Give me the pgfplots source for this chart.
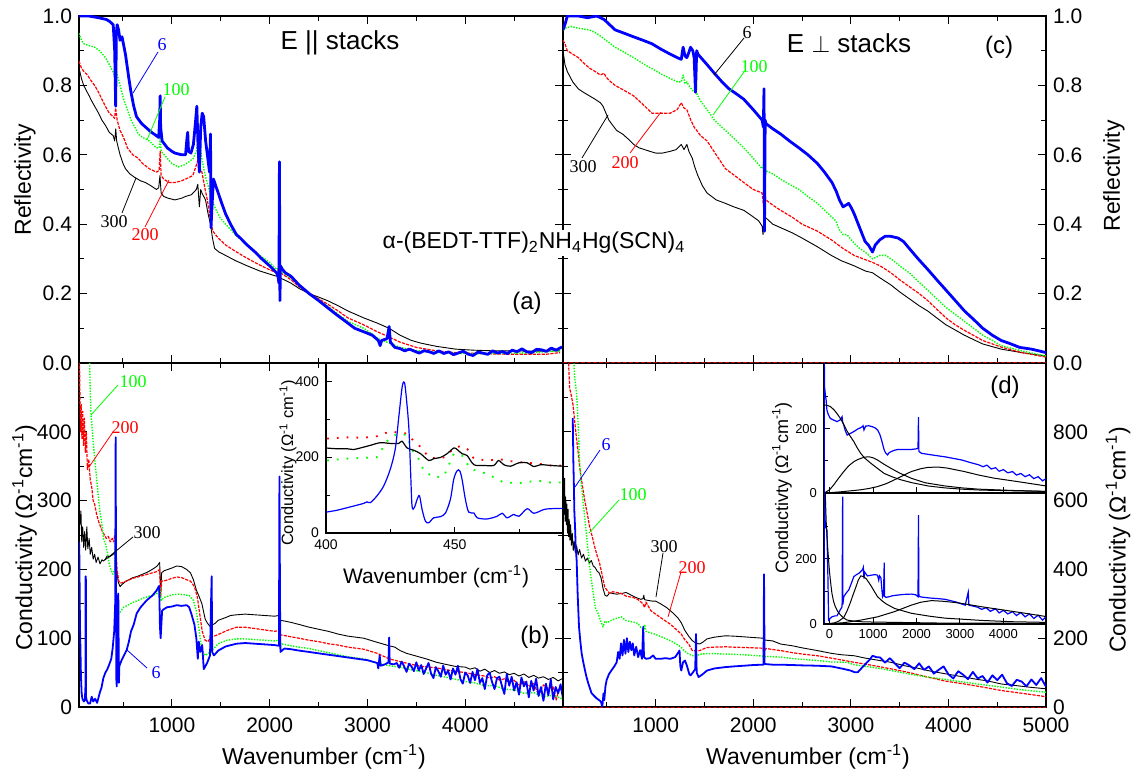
\documentclass[border=0pt]{standalone}
\usepackage{fontspec}
\setmainfont{Liberation Sans}
\newfontfamily\ser{Liberation Serif}
\usepackage{pgfplots}
\pgfplotsset{compat=1.18}
\pgfplotsset{
  base/.style={scale only axis, tick align=inside, major tick length=4pt, minor tick length=2.3pt,
    tick style={black, line width=0.5pt}, axis line style={line width=0.7pt},
    /pgf/number format/assume math mode=true, /pgf/number format/1000 sep={}, scaled ticks=false,
    ticklabel style={font=\fontsize{10.5}{12}\selectfont}, clip=true},
  main/.style={base, xmin=50, xmax=5000, minor xtick={500,1500,2500,3500,4500}, xticklabel style={yshift=-2pt}},
  refl/.style={ymin=0, ymax=1, ytick={0,0.2,0.4,0.6,0.8,1.0}, minor ytick={0.1,0.3,0.5,0.7,0.9},
    yticklabel style={/pgf/number format/.cd, fixed, fixed zerofill, precision=1}},
  inset/.style={base, xtick pos=left, ytick pos=left, axis background/.style={fill=white},
    ticklabel style={font=\fontsize{7}{8}\selectfont}, major tick length=3pt, minor tick length=1.8pt},
  c300/.style={black, line width=0.45pt, line join=round},
  c200/.style={red, line width=0.6pt, dash pattern=on 1.6pt off 0.6pt, line join=round},
  c100/.style={green, line width=0.7pt, dash pattern=on 0.7pt off 0.7pt, line join=round},
  c6/.style={blue, line width=1.4pt, line join=round},
  c6b/.style={blue, line width=0.9pt, line join=round},
  fit/.style={black, line width=0.5pt},
}
\begin{document}
\begin{tikzpicture}
\path[use as bounding box] (0pt,0pt) rectangle (568pt,-387.5pt);
%================ (a) top-left
\begin{axis}[main, refl, at={(39.5pt,-181.5pt)}, anchor=south west, width=242pt, height=173.5pt,
  xtick={1000,2000,3000,4000}, xticklabels={}]
\addplot[c300] coordinates {(50,0.85)(75,0.82)(98,0.80)(125,0.785)(154,0.77)(180,0.755)(210,0.74)(250,0.72)(284,0.70)(320,0.685)(359,0.665)(400,0.655)(415,0.64)(426,0.675)(435,0.64)(470,0.60)(500,0.575)(525,0.56)(570,0.545)(619,0.535)(680,0.525)(730,0.52)(790,0.51)(842,0.50)(865,0.505)(878,0.54)(890,0.49)(916,0.48)(960,0.475)(1030,0.47)(1100,0.475)(1140,0.48)(1200,0.485)(1250,0.50)(1265,0.515)(1281,0.45)(1295,0.50)(1307,0.49)(1344,0.47)(1370,0.43)(1395,0.40)(1415,0.36)(1437,0.33)(1480,0.32)(1549,0.31)(1650,0.295)(1770,0.28)(1900,0.265)(2070,0.25)(2100,0.26)(2110,0.245)(2218,0.23)(2300,0.215)(2404,0.20)(2500,0.19)(2590,0.18)(2700,0.165)(2800,0.15)(2962,0.13)(3100,0.115)(3222,0.10)(3334,0.08)(3450,0.065)(3550,0.057)(3706,0.048)(3900,0.04)(4078,0.037)(4300,0.035)(4450,0.035)(4700,0.034)(4970,0.035)};
\addplot[c200] coordinates {(50,0.87)(75,0.85)(100,0.84)(136,0.83)(170,0.815)(210,0.80)(250,0.78)(284,0.76)(320,0.74)(359,0.72)(400,0.71)(414,0.705)(425,0.735)(440,0.70)(470,0.67)(489,0.66)(520,0.64)(545,0.62)(600,0.60)(656,0.59)(700,0.575)(768,0.56)(842,0.55)(870,0.555)(880,0.61)(890,0.54)(916,0.53)(970,0.52)(1030,0.52)(1100,0.525)(1140,0.53)(1214,0.54)(1250,0.57)(1270,0.59)(1290,0.56)(1307,0.55)(1340,0.50)(1363,0.47)(1390,0.42)(1418,0.38)(1474,0.36)(1550,0.34)(1660,0.32)(1750,0.305)(1846,0.29)(1950,0.275)(2070,0.26)(2100,0.275)(2110,0.26)(2218,0.24)(2300,0.22)(2404,0.20)(2500,0.185)(2590,0.17)(2700,0.15)(2800,0.13)(2962,0.11)(3100,0.09)(3222,0.075)(3334,0.06)(3500,0.045)(3706,0.035)(3900,0.03)(4078,0.028)(4300,0.026)(4500,0.025)(4822,0.025)(4970,0.03)};
\addplot[c100] coordinates {(50,0.95)(75,0.93)(98,0.92)(150,0.915)(210,0.91)(260,0.90)(321,0.88)(360,0.86)(396,0.84)(415,0.83)(433,0.84)(450,0.82)(470,0.80)(507,0.76)(545,0.73)(582,0.70)(620,0.68)(656,0.66)(700,0.65)(768,0.64)(842,0.62)(870,0.62)(880,0.65)(890,0.61)(953,0.59)(1000,0.575)(1065,0.565)(1120,0.57)(1177,0.58)(1220,0.59)(1250,0.61)(1270,0.64)(1281,0.66)(1300,0.60)(1326,0.56)(1350,0.53)(1381,0.50)(1410,0.47)(1437,0.45)(1490,0.42)(1549,0.40)(1650,0.37)(1770,0.34)(1900,0.31)(2000,0.29)(2070,0.27)(2100,0.275)(2110,0.265)(2218,0.245)(2300,0.225)(2404,0.20)(2500,0.18)(2590,0.165)(2700,0.14)(2800,0.12)(2962,0.10)(3040,0.085)(3111,0.07)(3200,0.06)(3334,0.045)(3500,0.036)(3706,0.03)(3900,0.028)(4100,0.027)(4450,0.028)(4700,0.03)(4970,0.035)};
\addplot[c6] coordinates {(50,1.0)(150,1.0)(250,0.995)(330,0.99)(360,0.985)(400,0.975)(415,0.90)(425,0.74)(432,0.95)(440,0.975)(455,0.96)(470,0.93)(490,0.94)(525,0.89)(560,0.82)(582,0.78)(610,0.74)(638,0.71)(690,0.69)(730,0.68)(790,0.665)(842,0.655)(865,0.65)(875,0.70)(880,0.77)(885,0.68)(900,0.64)(953,0.62)(1000,0.61)(1030,0.605)(1100,0.60)(1140,0.60)(1155,0.65)(1162,0.665)(1170,0.61)(1195,0.605)(1220,0.63)(1240,0.69)(1255,0.74)(1268,0.62)(1281,0.55)(1295,0.68)(1310,0.72)(1325,0.71)(1345,0.64)(1363,0.60)(1385,0.55)(1395,0.66)(1400,0.39)(1410,0.45)(1425,0.53)(1474,0.49)(1510,0.46)(1549,0.43)(1600,0.40)(1660,0.37)(1700,0.36)(1770,0.34)(1850,0.32)(1920,0.30)(2000,0.28)(2070,0.26)(2085,0.25)(2095,0.23)(2100,0.58)(2105,0.18)(2110,0.28)(2130,0.27)(2160,0.26)(2218,0.25)(2300,0.225)(2404,0.20)(2500,0.18)(2590,0.16)(2680,0.14)(2776,0.12)(2870,0.10)(2962,0.09)(3050,0.08)(3111,0.065)(3130,0.05)(3145,0.065)(3200,0.07)(3222,0.105)(3235,0.06)(3280,0.045)(3334,0.0415)(3380,0.035)(3430,0.040)(3480,0.034)(3530,0.0285)(3580,0.0355)(3630,0.0325)(3680,0.0275)(3730,0.035)(3780,0.0275)(3830,0.032)(3880,0.024)(3930,0.029)(3980,0.034)(4030,0.0255)(4080,0.0215)(4130,0.0315)(4180,0.0285)(4230,0.025)(4280,0.035)(4330,0.0285)(4380,0.033)(4430,0.027)(4480,0.037)(4530,0.0325)(4580,0.041)(4630,0.032)(4680,0.030)(4730,0.0395)(4780,0.038)(4830,0.0335)(4880,0.043)(4930,0.037)(4990,0.0465)};
\end{axis}
%================ (c) top-right
\begin{axis}[main, refl, at={(281.5pt,-181.5pt)}, anchor=south west, width=241.5pt, height=173.5pt,
  xtick={1000,2000,3000,4000}, xticklabels={}, yticklabel pos=right]
\addplot[c300] coordinates {(50,0.90)(70,0.86)(94,0.84)(150,0.81)(207,0.79)(260,0.78)(320,0.77)(380,0.76)(433,0.75)(460,0.74)(490,0.72)(520,0.70)(546,0.69)(600,0.67)(660,0.66)(720,0.645)(773,0.63)(830,0.62)(886,0.615)(940,0.61)(999,0.605)(1070,0.605)(1149,0.61)(1210,0.615)(1262,0.63)(1290,0.615)(1319,0.63)(1340,0.61)(1375,0.59)(1400,0.565)(1432,0.54)(1480,0.51)(1526,0.49)(1620,0.47)(1715,0.46)(1800,0.45)(1903,0.44)(1980,0.425)(2054,0.41)(2090,0.395)(2100,0.37)(2110,0.43)(2122,0.42)(2200,0.40)(2280,0.39)(2400,0.375)(2500,0.36)(2657,0.335)(2800,0.31)(2900,0.295)(3034,0.28)(3150,0.265)(3222,0.26)(3300,0.245)(3410,0.225)(3500,0.205)(3600,0.185)(3700,0.165)(3787,0.15)(3880,0.13)(3975,0.11)(4070,0.095)(4164,0.08)(4350,0.055)(4540,0.04)(4750,0.03)(5000,0.02)};
\addplot[c200] coordinates {(50,0.93)(70,0.92)(94,0.90)(150,0.89)(207,0.88)(260,0.865)(320,0.85)(380,0.84)(433,0.83)(471,0.835)(490,0.825)(520,0.815)(584,0.80)(680,0.785)(773,0.77)(870,0.745)(961,0.72)(1050,0.72)(1149,0.72)(1220,0.73)(1262,0.75)(1290,0.735)(1319,0.73)(1360,0.70)(1394,0.68)(1460,0.655)(1526,0.64)(1620,0.60)(1715,0.56)(1810,0.54)(1903,0.52)(2000,0.50)(2091,0.49)(2105,0.45)(2110,0.50)(2129,0.47)(2200,0.455)(2280,0.44)(2400,0.42)(2500,0.40)(2657,0.38)(2800,0.355)(2920,0.33)(3034,0.31)(3222,0.29)(3300,0.28)(3410,0.26)(3500,0.24)(3599,0.22)(3700,0.20)(3787,0.18)(3880,0.155)(3975,0.13)(4070,0.11)(4164,0.094)(4350,0.065)(4540,0.046)(4750,0.03)(5000,0.017)};
\addplot[c100] coordinates {(50,0.96)(75,0.965)(132,0.97)(200,0.965)(320,0.96)(396,0.95)(490,0.93)(584,0.91)(680,0.895)(773,0.88)(886,0.86)(980,0.845)(1074,0.83)(1150,0.82)(1224,0.81)(1262,0.81)(1281,0.83)(1300,0.805)(1320,0.81)(1338,0.80)(1380,0.785)(1413,0.78)(1460,0.755)(1526,0.73)(1601,0.70)(1715,0.67)(1810,0.645)(1903,0.62)(2000,0.59)(2091,0.56)(2110,0.58)(2122,0.555)(2200,0.545)(2280,0.53)(2370,0.515)(2468,0.50)(2560,0.48)(2657,0.46)(2750,0.435)(2845,0.41)(2880,0.385)(2920,0.37)(2960,0.37)(3034,0.345)(3090,0.33)(3146,0.32)(3222,0.30)(3297,0.31)(3360,0.31)(3410,0.30)(3500,0.28)(3599,0.26)(3690,0.235)(3787,0.21)(3880,0.185)(3975,0.16)(4070,0.14)(4164,0.12)(4260,0.10)(4352,0.08)(4450,0.065)(4540,0.05)(4750,0.035)(5000,0.02)};
\addplot[c6] coordinates {(50,0.96)(75,0.98)(94,1.0)(150,1.0)(207,1.0)(300,0.995)(396,1.0)(471,0.99)(584,0.96)(680,0.95)(773,0.94)(870,0.93)(961,0.92)(1050,0.905)(1149,0.89)(1220,0.88)(1262,0.875)(1281,0.91)(1300,0.885)(1319,0.88)(1340,0.895)(1357,0.91)(1380,0.90)(1394,0.88)(1408,0.78)(1420,0.90)(1432,0.89)(1526,0.86)(1601,0.835)(1680,0.81)(1752,0.79)(1830,0.775)(1903,0.76)(2000,0.73)(2091,0.70)(2103,0.68)(2110,0.79)(2115,0.38)(2122,0.70)(2129,0.69)(2200,0.675)(2280,0.66)(2370,0.64)(2468,0.62)(2560,0.60)(2657,0.575)(2730,0.55)(2807,0.52)(2850,0.495)(2883,0.47)(2920,0.45)(2950,0.455)(2977,0.46)(3000,0.45)(3034,0.43)(3090,0.39)(3146,0.35)(3180,0.34)(3222,0.32)(3250,0.34)(3297,0.355)(3350,0.365)(3410,0.365)(3485,0.36)(3540,0.35)(3599,0.33)(3690,0.30)(3787,0.27)(3880,0.24)(3975,0.21)(4070,0.18)(4164,0.15)(4260,0.125)(4352,0.10)(4450,0.08)(4540,0.065)(4640,0.055)(4729,0.045)(4850,0.04)(5000,0.03)};
\end{axis}
%================ (b) bottom-left
\begin{axis}[main, at={(39.5pt,-353.5pt)}, anchor=south west, width=242pt, height=172pt,
  xtick={1000,2000,3000,4000}, ymin=0, ymax=500, ytick={0,100,200,300,400}, minor ytick={50,150,250,350,450}]
\addplot[c300] coordinates {(50,300)(60,265)(70,285)(78,240)(88,262)(98,232)(108,255)(118,228)(130,262)(140,230)(154,245)(165,222)(180,232)(195,215)(210,222)(225,210)(245,218)(265,208)(285,214)(300,212)(320,215)(340,220)(360,218)(380,220)(400,222)(415,225)(425,218)(435,200)(450,182)(470,175)(490,178)(520,182)(560,185)(600,188)(650,190)(700,193)(750,196)(800,200)(850,205)(875,210)(885,165)(895,195)(920,198)(960,200)(1000,202)(1050,205)(1100,204)(1150,200)(1190,195)(1220,185)(1250,170)(1280,160)(1307,150)(1340,128)(1363,122)(1385,118)(1400,116)(1420,120)(1437,121)(1474,126)(1550,130)(1600,133)(1660,134)(1750,135)(1850,134)(1950,133)(2050,132)(2095,133)(2105,126)(2150,125)(2218,123)(2300,120)(2404,116)(2500,113)(2600,110)(2700,106)(2800,103)(2962,100)(3100,94)(3222,89)(3280,87)(3334,82)(3400,78)(3500,74)(3600,70)(3706,65)(3800,62)(3900,59)(4000,58)(4050,55)(4100,57)(4150,52)(4200,55)(4250,50)(4300,53)(4350,49)(4400,51)(4450,47)(4500,49)(4550,45)(4600,48)(4650,43)(4700,46)(4750,42)(4800,44)(4850,40)(4900,43)(4950,38)(4990,41)};
\addplot[c200] coordinates {(50,560)(60,450)(66,400)(72,440)(80,390)(88,430)(96,380)(105,420)(115,370)(125,400)(136,345)(150,360)(165,330)(180,320)(195,300)(210,295)(230,280)(250,270)(270,262)(290,255)(310,250)(330,245)(350,248)(370,240)(390,245)(405,240)(415,250)(425,246)(430,225)(440,200)(455,184)(470,180)(500,181)(550,184)(600,187)(650,189)(700,191)(750,193)(800,195)(850,197)(875,200)(885,160)(895,183)(916,183)(960,185)(1000,187)(1050,189)(1100,188)(1150,185)(1190,183)(1230,175)(1260,160)(1290,130)(1310,110)(1340,97)(1370,95)(1390,100)(1410,102)(1450,104)(1500,107)(1560,111)(1660,116)(1750,116)(1850,114)(1950,112)(2050,110)(2095,111)(2105,105)(2150,104)(2218,102)(2300,100)(2404,97)(2500,95)(2600,92)(2700,90)(2800,87)(2962,84)(3100,78)(3222,70)(3334,66)(3450,62)(3550,59)(3706,57)(3850,53)(4000,50)(4100,47)(4200,45)(4250,42)(4300,44)(4350,39)(4400,41)(4450,36)(4500,39)(4550,31)(4600,37)(4650,30)(4700,34)(4750,18)(4800,32)(4850,27)(4900,30)(4930,10)(4960,27)(4990,24)};
\addplot[c100] coordinates {(50,600)(150,560)(165,460)(173,425)(190,395)(200,377)(215,355)(226,338)(245,310)(263,285)(290,260)(300,245)(321,237)(340,225)(359,208)(380,198)(396,193)(415,200)(425,261)(432,175)(440,140)(455,135)(470,138)(507,145)(550,148)(600,152)(656,155)(700,158)(768,161)(842,164)(870,170)(880,174)(890,155)(916,159)(960,161)(1000,163)(1065,164)(1130,163)(1177,162)(1220,155)(1250,140)(1280,110)(1307,82)(1340,75)(1363,77)(1390,80)(1420,84)(1474,92)(1560,97)(1660,99)(1750,99)(1850,98)(1950,97)(2050,96)(2095,97)(2105,92)(2150,91)(2218,89)(2300,87)(2404,85)(2500,82)(2600,79)(2700,76)(2800,73)(2962,70)(3100,64)(3222,60)(3334,58)(3450,54)(3600,50)(3706,46)(3850,42)(4000,37)(4100,35)(4200,31)(4300,31)(4400,26)(4500,25)(4600,20)(4700,21)(4800,15)(4900,17)(4990,12)};
\addplot[c6b] coordinates {(50,240)(53,230)(60,120)(70,45)(77,20)(85,12)(100,8)(110,10)(116,30)(118,190)(120,190)(122,15)(128,10)(145,5)(163,5)(180,15)(195,8)(214,12)(235,6)(250,14)(265,22)(280,28)(299,42)(320,50)(340,55)(360,62)(380,70)(394,85)(410,110)(420,150)(425,392)(428,230)(432,40)(436,30)(445,120)(452,165)(458,35)(463,60)(486,68)(510,75)(538,83)(560,95)(582,110)(610,120)(640,136)(680,145)(742,155)(800,162)(842,169)(861,174)(870,176)(878,116)(885,100)(900,140)(916,142)(950,145)(1000,146)(1049,148)(1100,147)(1151,148)(1177,145)(1200,135)(1230,120)(1250,100)(1265,70)(1275,95)(1290,80)(1310,90)(1326,55)(1345,60)(1363,65)(1390,75)(1400,150)(1407,190)(1412,80)(1430,75)(1474,82)(1550,88)(1660,92)(1750,93)(1850,92)(1950,91)(2050,90)(2095,89)(2100,335)(2106,150)(2110,80)(2150,85)(2218,84)(2300,82)(2404,80)(2500,78)(2600,76)(2700,74)(2800,72)(2900,70)(3000,68)(3050,66)(3100,64)(3111,56)(3125,75)(3135,60)(3180,62)(3215,65)(3222,101)(3228,63)(3270,62)(3300,64)(3325,57)(3350,66)(3375,59)(3400,51)(3425,63)(3450,59)(3475,52)(3500,65)(3525,53)(3550,61)(3575,48)(3600,56)(3625,64)(3650,49)(3675,42)(3700,58)(3725,52)(3750,44)(3775,60)(3800,47)(3825,53)(3850,40)(3875,56)(3900,47)(3925,60)(3950,41)(3975,34)(4000,50)(4025,46)(4050,35)(4075,51)(4100,39)(4125,55)(4150,35)(4175,42)(4200,26)(4225,46)(4250,50)(4275,36)(4300,26)(4325,42)(4350,44)(4375,31)(4400,19)(4425,48)(4450,31)(4475,44)(4500,24)(4525,36)(4550,18)(4575,43)(4600,30)(4625,37)(4650,14)(4675,38)(4700,24)(4725,41)(4750,16)(4775,29)(4800,9)(4825,34)(4850,17)(4875,40)(4900,11)(4925,29)(4950,20)(4975,33)(5000,12)};
\end{axis}
%================ (d) bottom-right
\begin{axis}[main, at={(281.5pt,-353.5pt)}, anchor=south west, width=241.5pt, height=172pt,
  xtick={1000,2000,3000,4000,5000}, ymin=0, ymax=1000, ytick={0,200,400,600,800}, minor ytick={100,300,500,700,900}, yticklabel pos=right]
\addplot[c300] coordinates {(50,600)(55,650)(60,560)(66,665)(72,540)(78,610)(84,530)(90,590)(96,505)(102,575)(108,495)(114,545)(120,485)(128,530)(136,470)(145,505)(155,455)(165,482)(175,450)(190,468)(205,442)(220,458)(240,433)(260,444)(280,424)(300,433)(320,418)(340,426)(360,410)(380,405)(400,395)(420,390)(440,375)(460,345)(480,325)(500,322)(530,332)(560,330)(600,328)(650,330)(697,333)(750,325)(800,318)(848,313)(870,315)(878,325)(885,312)(920,310)(960,308)(999,308)(1050,300)(1112,289)(1170,275)(1225,260)(1262,245)(1300,222)(1340,205)(1375,193)(1410,186)(1451,183)(1490,190)(1526,198)(1600,203)(1715,207)(1800,206)(1903,204)(2000,202)(2100,200)(2110,195)(2200,192)(2280,183)(2400,178)(2500,172)(2657,164)(2800,156)(2900,152)(3034,149)(3150,142)(3300,135)(3410,130)(3550,120)(3700,112)(3787,106)(3900,100)(4000,95)(4164,87)(4300,80)(4400,76)(4540,67)(4700,62)(4850,57)(5000,53)};
\addplot[c200] coordinates {(50,1100)(100,1050)(118,928)(135,905)(152,880)(170,830)(187,784)(205,740)(221,697)(245,650)(273,600)(300,560)(324,523)(350,495)(375,465)(400,440)(426,417)(450,385)(477,349)(500,340)(528,330)(560,335)(600,333)(648,330)(700,322)(773,318)(820,312)(870,300)(886,289)(900,305)(950,280)(999,270)(1050,260)(1100,250)(1149,241)(1200,228)(1262,212)(1300,195)(1338,183)(1375,164)(1410,163)(1451,164)(1500,170)(1526,173)(1600,174)(1715,175)(1800,174)(1903,173)(2000,172)(2091,171)(2110,160)(2130,170)(2280,164)(2400,158)(2500,154)(2657,149)(2800,142)(2920,136)(3034,130)(3200,122)(3410,111)(3600,100)(3787,87)(3975,75)(4164,67)(4350,58)(4540,48)(4750,40)(5000,30)};
\addplot[c100] coordinates {(150,1100)(165,980)(173,950)(190,909)(207,813)(221,706)(240,640)(258,590)(275,545)(290,503)(305,460)(324,407)(340,370)(360,330)(380,290)(409,272)(430,255)(460,233)(480,250)(500,245)(546,252)(600,258)(648,262)(697,251)(750,248)(819,243)(848,231)(878,225)(887,240)(900,220)(950,215)(990,212)(1050,205)(1149,193)(1230,180)(1262,173)(1300,162)(1338,154)(1380,149)(1420,150)(1470,154)(1526,155)(1600,155)(1715,154)(1800,153)(1903,152)(2000,150)(2091,148)(2110,145)(2130,147)(2280,145)(2400,141)(2657,135)(2800,131)(2958,130)(3034,123)(3150,118)(3300,112)(3410,106)(3600,96)(3787,87)(3975,80)(4164,72)(4350,65)(4540,58)(4750,50)(5000,43)};
\addplot[c6b] coordinates {(150,840)(156,716)(162,640)(166,571)(174,520)(180,465)(190,426)(200,330)(214,233)(228,190)(241,156)(258,130)(275,107)(290,88)(309,69)(325,55)(343,40)(370,32)(395,25)(420,20)(439,15)(453,0)(465,40)(473,20)(485,60)(497,78)(520,95)(548,107)(580,120)(600,130)(615,160)(630,140)(645,185)(660,150)(675,195)(690,155)(705,200)(720,160)(735,190)(750,165)(765,185)(780,150)(800,175)(820,145)(840,165)(860,140)(872,233)(880,145)(900,140)(940,142)(974,150)(999,140)(1050,140)(1100,142)(1149,140)(1200,145)(1244,164)(1252,120)(1262,106)(1280,130)(1300,135)(1320,120)(1345,95)(1357,92)(1380,100)(1405,110)(1413,212)(1420,100)(1440,87)(1480,95)(1526,106)(1600,112)(1715,116)(1800,118)(1903,120)(2000,122)(2091,123)(2105,123)(2110,386)(2116,125)(2200,123)(2280,123)(2400,122)(2500,121)(2657,120)(2800,118)(2920,111)(2996,106)(3040,101)(3071,101)(3100,110)(3150,125)(3200,140)(3222,149)(3260,145)(3300,144)(3350,129)(3400,142)(3450,127)(3500,113)(3550,129)(3600,121)(3650,110)(3700,127)(3750,108)(3800,118)(3850,97)(3900,108)(3950,118)(4000,95)(4050,83)(4100,104)(4150,94)(4200,81)(4250,102)(4300,83)(4350,90)(4400,71)(4450,92)(4500,78)(4550,94)(4600,69)(4650,61)(4700,79)(4750,74)(4800,60)(4850,80)(4900,64)(4950,84)(5000,59)};
\end{axis}
%================ inset in (b)
\begin{axis}[inset, at={(163pt,-266.5pt)}, anchor=south west, width=118.5pt, height=85pt,
  xmin=400, xmax=492, ymin=0, ymax=448, xtick={400,450}, minor xtick={425,475}, ytick={0,200,400}, minor ytick={100,300}]
\addplot[red, line width=0.9pt, dash pattern=on 0.9pt off 4pt] coordinates {(400.4,249)(408.2,252)(414.6,251)(419.8,255)(425,268)(427.6,265)(431.5,262)(434.1,242)(436.7,227)(439.9,200)(443.1,196)(446.4,200)(449.6,224)(452.2,229)(454.8,222)(457.4,196)(462.5,191)(467.7,194)(472.9,188)(478.1,185)(483.3,182)(487.2,178)(492,178)};
\addplot[green, line width=0.9pt, dash pattern=on 0.9pt off 4pt] coordinates {(400.4,191)(408.2,196)(414.6,198)(419.8,200)(423.7,242)(427.6,262)(431.5,258)(433.4,218)(435.4,204)(438,164)(441.8,147)(445.7,149)(449.6,209)(452.8,204)(456.1,169)(462.5,156)(469,133)(475.5,132)(482,138)(487.2,133)(492,133)};
\addplot[black, line width=0.6pt, smooth] coordinates {(400,224)(404.3,222)(408.2,222)(410.7,220)(413.3,224)(417.2,231)(421.1,238)(425,236)(428.2,236)(429.5,242)(431.5,224)(434.1,218)(436.7,209)(439.9,191)(441.8,196)(444.4,199)(447,209)(449.6,224)(450.9,220)(452.8,209)(454.8,204)(457.4,180)(461.2,178)(465.1,178)(467,191)(469,180)(471.6,176)(474.9,185)(478.1,185)(480.7,175)(483.3,180)(487.2,178)(492,176)};
\addplot[blue, line width=0.6pt, smooth] coordinates {(400,55)(404.3,60)(410.7,71)(414.6,78)(415.9,82)(417.2,80)(419.8,98)(422.4,124)(425,169)(426.9,222)(428.2,302)(429.5,382)(430.2,398)(430.8,382)(432.1,284)(432.8,169)(433.4,71)(434.3,67)(435.4,89)(436.3,98)(437.3,62)(438.6,31)(439.9,27)(441.8,40)(444.4,43)(446.4,53)(448.3,89)(449.6,142)(450.9,164)(451.9,164)(452.8,142)(454.1,89)(455.4,55)(457.4,53)(458.7,40)(462.5,37)(466.4,44)(468.4,52)(470.3,40)(472.9,49)(474.9,44)(478.1,64)(480.7,52)(484.6,62)(487.2,64)(492,65)};
\end{axis}
%================ inset (d) upper
\begin{axis}[inset, at={(412pt,-246.5pt)}, anchor=south west, width=111pt, height=65pt,
  xmin=-129, xmax=4980, ymin=0, ymax=406, xtick={0,1000,2000,3000,4000}, xticklabels={}, ytick={0,200}, minor ytick={100,300},
  ticklabel style={font=\fontsize{6.5}{7}\selectfont}]
\addplot[blue, line width=0.6pt] coordinates {(-124,0)(-122,420)(-115,330)(-101,311)(-80,290)(-62,259)(-30,245)(16,233)(90,228)(170,223)(240,228)(287,238)(300,222)(326,212)(360,195)(404,181)(480,186)(558,192)(650,200)(700,203)(753,207)(770,210)(791,197)(830,209)(900,210)(986,207)(1050,203)(1103,197)(1150,185)(1195,166)(1225,150)(1257,134)(1290,125)(1336,119)(1370,126)(1412,129)(1480,133)(1567,136)(1700,136)(1880,136)(2000,138)(2034,139)(2045,237)(2055,130)(2113,124)(2300,120)(2500,116)(2655,113)(2850,108)(3044,103)(3240,95)(3432,88)(3530,82)(3620,87)(3720,75)(3820,79)(3900,68)(4000,73)(4100,63)(4209,67)(4300,56)(4400,61)(4500,51)(4598,57)(4700,45)(4800,51)(4900,38)(4980,45)};
\addplot[fit] coordinates {(-129,275)(-60,274)(16,270)(100,260)(170,248)(248,233)(330,213)(404,193)(481,176)(560,160)(640,140)(715,124)(800,110)(948,93)(1100,77)(1257,61)(1450,50)(1645,41)(1900,32)(2266,22)(2650,16)(3044,12)(3500,9)(4209,7)(4980,5)};
\addplot[fit] coordinates {(-124,0)(0,10)(92,25)(200,45)(326,67)(440,85)(559,98)(640,104)(715,108)(800,112)(908,113)(1000,110)(1103,103)(1250,90)(1413,77)(1600,63)(1880,46)(2200,32)(2655,22)(3044,16)(3432,12)(4200,8)(4980,5)};
\addplot[fit] coordinates {(-124,0)(200,3)(500,7)(715,10)(900,14)(1103,20)(1300,29)(1490,41)(1700,55)(1880,67)(2100,76)(2266,80)(2500,81)(2700,78)(2810,75)(3100,67)(3432,56)(3800,46)(4209,38)(4600,30)(4980,22)};
\end{axis}
%================ inset (d) lower
\begin{axis}[inset, at={(412pt,-312pt)}, anchor=south west, width=111pt, height=65.5pt,
  xmin=-129, xmax=4980, ymin=0, ymax=403, xtick={0,1000,2000,3000,4000}, ytick={0,200}, minor ytick={100,300},
  ticklabel style={font=\fontsize{6.5}{7}\selectfont}, xticklabel style={yshift=1pt}]
\addplot[blue, line width=0.6pt] coordinates {(-124,0)(-122,410)(-118,420)(-100,300)(-62,289)(-40,150)(-23,12)(20,18)(54,22)(120,25)(170,25)(230,40)(287,53)(300,392)(305,60)(326,84)(380,95)(442,105)(500,125)(558,146)(620,152)(675,156)(720,162)(760,168)(776,174)(790,140)(805,160)(869,148)(950,150)(1050,152)(1103,150)(1130,135)(1150,148)(1180,142)(1200,110)(1219,84)(1240,90)(1257,189)(1265,85)(1300,82)(1373,84)(1450,87)(1567,89)(1700,91)(1880,92)(1980,90)(2034,84)(2045,335)(2055,85)(2113,83)(2300,80)(2500,78)(2655,76)(2900,68)(3121,58)(3190,98)(3205,58)(3400,52)(3500,45)(3600,50)(3700,39)(3820,47)(3900,34)(4000,42)(4100,31)(4209,38)(4300,26)(4400,35)(4500,22)(4598,31)(4700,17)(4800,27)(4900,12)(4980,22)};
\addplot[fit] coordinates {(-129,420)(-100,400)(-77,310)(-60,270)(-46,238)(-20,190)(1,156)(30,120)(54,94)(90,70)(132,53)(190,38)(248,28)(330,18)(404,12)(550,9)(714,7)(1000,6)(1500,5)(2500,3)(4980,2)};
\addplot[fit] coordinates {(-124,0)(100,3)(200,8)(326,20)(400,40)(481,67)(540,90)(598,111)(660,135)(718,148)(780,146)(850,138)(951,118)(1030,100)(1103,84)(1200,72)(1300,62)(1492,48)(1880,33)(2300,24)(2655,18)(3500,11)(4200,7)(4980,5)};
\addplot[fit] coordinates {(-124,0)(326,4)(718,12)(1103,22)(1492,38)(1880,58)(2100,67)(2345,72)(2600,70)(2900,66)(3100,62)(3500,53)(4000,43)(4500,33)(4980,23)};
\end{axis}
%================ dashed edges
\draw[red!75!black, dash pattern=on 2pt off 1pt, line width=0.5pt] (281.5pt,-181.5pt) -- (523pt,-181.5pt);
\draw[red!75!black, dash pattern=on 2pt off 1pt, line width=0.5pt] (281.5pt,-353.5pt) -- (523pt,-353.5pt);
%================ texts
\node[fill=white, inner sep=1pt, font=\fontsize{11.5}{13}\selectfont] at (267pt,-121.5pt) {α-(BEDT-TTF)\textsubscript{2}NH\textsubscript{4}Hg(SCN)\textsubscript{4}};
\node[font=\fontsize{13}{15}\selectfont] at (170pt,-21.5pt) {E || stacks};
\node[font=\fontsize{13}{15}\selectfont] at (424.5pt,-21.5pt) {E $\perp$ stacks};
\node[font=\fontsize{12}{14}\selectfont] at (263.5pt,-151.5pt) {(a)};
\node[font=\fontsize{12}{14}\selectfont] at (267.5pt,-318.5pt) {(b)};
\node[font=\fontsize{12}{14}\selectfont] at (499.5pt,-23.5pt) {(c)};
\node[font=\fontsize{12}{14}\selectfont] at (502.5pt,-193.5pt) {(d)};
\node[rotate=90, font=\fontsize{11.5}{13}\selectfont] at (12.5pt,-90pt) {Reflectivity};
\node[rotate=90, font=\fontsize{11.5}{13}\selectfont] at (557pt,-88pt) {Reflectivity};
\node[rotate=90, font=\fontsize{11.5}{13}\selectfont] at (12.25pt,-269pt) {Conductivity (Ω\textsuperscript{-1}cm\textsuperscript{-1})};
\node[rotate=90, font=\fontsize{11.5}{13}\selectfont] at (559pt,-270pt) {Conductivity (Ω\textsuperscript{-1}cm\textsuperscript{-1})};
\node[font=\fontsize{11.5}{13}\selectfont] at (162pt,-378.5pt) {Wavenumber (cm\textsuperscript{-1})};
\node[font=\fontsize{11.5}{13}\selectfont] at (404pt,-378.5pt) {Wavenumber (cm\textsuperscript{-1})};
\node[font=\fontsize{10.5}{12}\selectfont] at (218pt,-288.5pt) {Wavenumber (cm\textsuperscript{-1})};
\node[rotate=90, font=\fontsize{8.2}{10}\selectfont] at (144pt,-231.5pt) {Conductivity (Ω\textsuperscript{-1} cm\textsuperscript{-1})};
\node[rotate=90, font=\fontsize{9}{10}\selectfont] at (391pt,-244pt) {Conductivty (Ω\textsuperscript{-1}cm\textsuperscript{-1})};
% annotations
\begin{scope}[font=\ser\fontsize{9}{10}\selectfont, line width=0.4pt]
\node[blue] at (81pt,-22.5pt) {6}; \draw[blue] (79pt,-26pt)--(66.5pt,-46.5pt);
\node[green] at (88pt,-45pt) {100}; \draw[green] (82.5pt,-48.5pt)--(73.5pt,-70pt);
\node[black] at (57pt,-111pt) {300}; \draw[black] (61pt,-106.5pt)--(68pt,-89pt);
\node[red] at (72.5pt,-117.5pt) {200}; \draw[red] (72.5pt,-113.5pt)--(84.5pt,-90pt);
\node[black] at (373.5pt,-16.5pt) {6}; \draw[black] (372pt,-19pt)--(357pt,-37.5pt);
\node[green] at (377pt,-33.5pt) {100}; \draw[green] (372pt,-36pt)--(356.5pt,-57.5pt);
\node[black] at (291.5pt,-83.5pt) {300}; \draw[black] (291pt,-79pt)--(304pt,-57.5pt);
\node[red] at (312.5pt,-81.5pt) {200}; \draw[red] (315pt,-76.5pt)--(330.5pt,-56pt);
\node[green] at (66.5pt,-191pt) {100}; \draw[green] (59pt,-192.5pt)--(45.5pt,-207.5pt);
\node[red] at (62.5pt,-214pt) {200}; \draw[red] (56.5pt,-216pt)--(44.5pt,-233.5pt);
\node[black] at (73.5pt,-266.5pt) {300}; \draw[black] (66.5pt,-268.5pt)--(52.5pt,-280pt);
\node[blue] at (78pt,-336.5pt) {6}; \draw[blue] (73.5pt,-334pt)--(63.5pt,-325pt);
\node[blue] at (303pt,-222.5pt) {6}; \draw[blue] (300pt,-225pt)--(287.5pt,-243.5pt);
\node[green] at (316.5pt,-247.5pt) {100}; \draw[green] (309.5pt,-250pt)--(294.5pt,-266.5pt);
\node[black] at (332pt,-273.5pt) {300}; \draw[black] (331.5pt,-276.5pt)--(328pt,-298.5pt);
\node[red] at (346pt,-284pt) {200}; \draw[red] (340.5pt,-286pt)--(334pt,-308.5pt);
\end{scope}
\end{tikzpicture}
\end{document}
